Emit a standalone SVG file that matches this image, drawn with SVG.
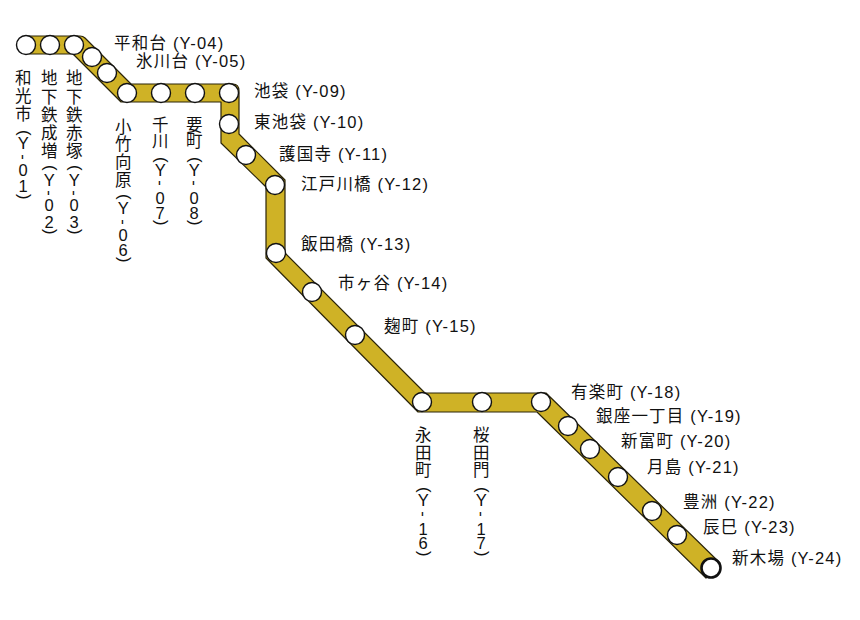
<svg xmlns="http://www.w3.org/2000/svg" width="860" height="620" viewBox="0 0 860 620">
<style>
text{font-family:"Liberation Sans","Noto Sans CJK JP",sans-serif;font-size:16.5px;fill:#111}
.h{letter-spacing:1.2px}
.s{fill:#fff;stroke:#111;stroke-width:1.4}
.band{fill:#cfb226;stroke:#2a2408;stroke-width:1.2;stroke-linejoin:round}
</style>
<rect width="860" height="620" fill="#fff"/>
<g id="connectors">
<path class="band" d="M26,36 L80,36 Q83,36 85,38 L131,84 L233,84 Q239,84 239,91 L239,134 L285,180 L285,253 L425,393 L546,393 L720,563 L706,578 L537,412 L418,412 L266,258 L266,187 L221,143 L221,102 L121,102 L73,54 L26,54 Z"/>
</g>
<g id="Y-01"><circle class="s" cx="26" cy="45" r="9.5"/><text x="15 15 15 18.5 17.7 18 18.5 18.5 18.5" y="84 102 120 130 149 154.3 176 192 194" rotate="0 0 0 90 0 90 0 0 90">和光市(Y-01)</text></g>
<g id="Y-02"><circle class="s" cx="50" cy="45" r="9.5"/><text x="41 41 41 41 41 44.5 43.7 44 44.5 44.5 44.5" y="84 103 121 139 157 165 186 190.3 211 228 229" rotate="0 0 0 0 0 90 0 90 0 0 90">地下鉄成増(Y-02)</text></g>
<g id="Y-03"><circle class="s" cx="74" cy="45" r="9.5"/><text x="66 66 66 66 66 69.5 68.7 69 69.5 69.5 69.5" y="84 103 121 139 157 165 186 190.3 211 228 229" rotate="0 0 0 0 0 90 0 90 0 0 90">地下鉄赤塚(Y-03)</text></g>
<g id="Y-04"><circle class="s" cx="92" cy="57" r="9.5"/><text class="h" x="114" y="49">平和台 (Y-04)</text></g>
<g id="Y-05"><circle class="s" cx="107" cy="73" r="9.5"/><text class="h" x="136" y="67">氷川台 (Y-05)</text></g>
<g id="Y-06"><circle class="s" cx="127" cy="93" r="9.5"/><text x="115 115 115 115 118.5 117.7 118 118.5 118.5 118.5" y="133 150 168 186 194 214 219.3 241 256 257" rotate="0 0 0 0 90 0 90 0 0 90">小竹向原(Y-06)</text></g>
<g id="Y-07"><circle class="s" cx="161" cy="93" r="9.5"/><text x="152 152 155.5 154.7 155 155.5 155.5 155.5" y="131 147 157 176 180.3 204 219 220" rotate="0 0 90 0 90 0 0 90">千川(Y-07)</text></g>
<g id="Y-08"><circle class="s" cx="195" cy="93" r="9.5"/><text x="186 186 189.5 188.7 189 189.5 189.5 189.5" y="131 147 157 176 180.3 204 219 220" rotate="0 0 90 0 90 0 0 90">要町(Y-08)</text></g>
<g id="Y-09"><circle class="s" cx="229" cy="93" r="9.5"/><text class="h" x="254" y="97">池袋 (Y-09)</text></g>
<g id="Y-10"><circle class="s" cx="229" cy="124" r="9.5"/><text class="h" x="254" y="128">東池袋 (Y-10)</text></g>
<g id="Y-11"><circle class="s" cx="246" cy="155" r="9.5"/><text class="h" x="279" y="160">護国寺 (Y-11)</text></g>
<g id="Y-12"><circle class="s" cx="275" cy="185" r="9.5"/><text class="h" x="301" y="190">江戸川橋 (Y-12)</text></g>
<g id="Y-13"><circle class="s" cx="276" cy="253" r="9.5"/><text class="h" x="301" y="250">飯田橋 (Y-13)</text></g>
<g id="Y-14"><circle class="s" cx="312" cy="292" r="9.5"/><text class="h" x="338" y="289">市ヶ谷 (Y-14)</text></g>
<g id="Y-15"><circle class="s" cx="355" cy="335" r="9.5"/><text class="h" x="384" y="332">麹町 (Y-15)</text></g>
<g id="Y-16"><circle class="s" cx="422" cy="402" r="9.5"/><text x="415 415 415 418.5 417.7 418 418.5 418.5 418.5" y="441 459 476 487 506 511.3 535 549 551" rotate="0 0 0 90 0 90 0 0 90">永田町(Y-16)</text></g>
<g id="Y-17"><circle class="s" cx="482" cy="402" r="9.5"/><text x="473 473 473 476.5 475.7 476 476.5 476.5 476.5" y="441 459 476 487 506 511.3 535 549 551" rotate="0 0 0 90 0 90 0 0 90">桜田門(Y-17)</text></g>
<g id="Y-18"><circle class="s" cx="541" cy="402" r="9.5"/><text class="h" x="571" y="398">有楽町 (Y-18)</text></g>
<g id="Y-19"><circle class="s" cx="568" cy="426" r="9.5"/><text class="h" x="596" y="422">銀座一丁目 (Y-19)</text></g>
<g id="Y-20"><circle class="s" cx="590" cy="449" r="9.5"/><text class="h" x="621" y="447">新富町 (Y-20)</text></g>
<g id="Y-21"><circle class="s" cx="618" cy="477" r="9.5"/><text class="h" x="647" y="473">月島 (Y-21)</text></g>
<g id="Y-22"><circle class="s" cx="652" cy="511" r="9.5"/><text class="h" x="683" y="508">豊洲 (Y-22)</text></g>
<g id="Y-23"><circle class="s" cx="677" cy="535" r="9.5"/><text class="h" x="703" y="533">辰巳 (Y-23)</text></g>
<g id="Y-24"><circle class="s" cx="711" cy="568" r="9.5" style="stroke-width:2.6"/><text class="h" x="732" y="564">新木場 (Y-24)</text></g>
</svg>
